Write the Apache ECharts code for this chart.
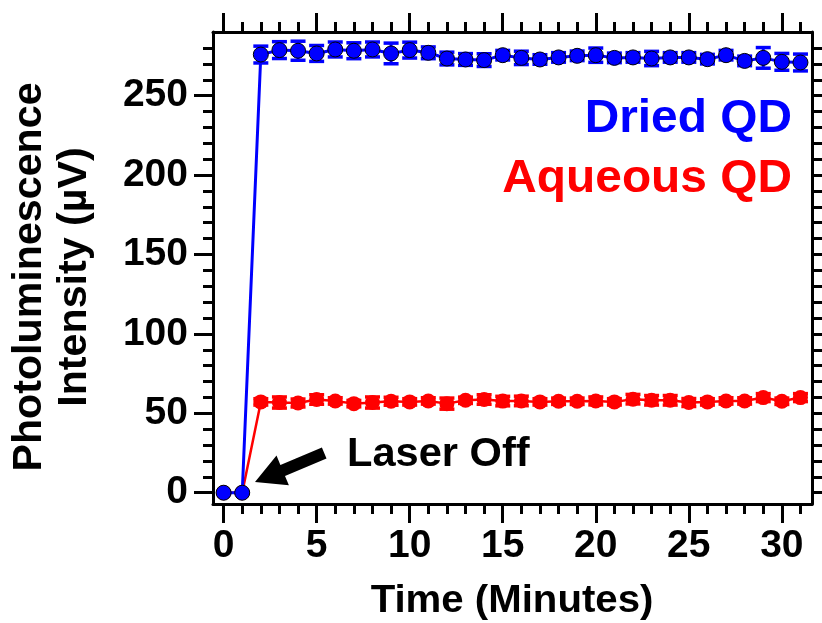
<!DOCTYPE html>
<html>
<head>
<meta charset="utf-8">
<script src="https://cdn.jsdelivr.net/npm/echarts@6/dist/echarts.min.js"></script>
<style>
html,body{margin:0;padding:0;background:#fff;}
#chart{width:822px;height:623px;}
</style>
</head>
<body>
<div id="chart"></div>
<script>
// ---- data ----
const time = [0,1,2,3,4,5,6,7,8,9,10,11,12,13,14,15,16,17,18,19,20,21,22,23,24,25,26,27,28,29,30,31];
const dried = [0,0,275.9,278.7,278.3,276.6,279.1,278.3,279.1,276.6,278.7,277.0,273.4,272.8,272.4,275.5,
               273.8,272.8,274.1,275.1,275.5,273.8,274.1,273.4,274.1,274.1,273.0,275.5,271.9,273.8,271.3,270.9];
const driedErr = [0,0,5.3,5.3,6.0,5.0,4.7,5.0,4.7,6.5,5.0,3.7,4.0,3.7,4.0,3.0,
                  4.2,3.0,3.0,3.0,4.5,3.0,3.0,4.5,3.0,3.0,3.0,3.0,3.0,6.5,5.3,5.3];
const aqueous = [0,0,57.2,56.8,56.5,58.7,57.8,56.1,56.8,57.6,57.2,57.8,56.1,58.2,58.7,57.7,
                 57.8,57.2,57.6,57.6,57.8,57.2,58.9,58.2,58.2,56.8,57.2,57.8,57.8,59.9,57.6,59.9];
const aqueousErr = [0,0,2,3.5,2.5,3,2,2,3.5,2.5,2,2,3.5,2,3,3,
                    3,2,2,2,2.5,2,3,3,3,2.5,2,2,2,2.5,2,2.5];
const xMajorTicks = [0,5,10,15,20,25,30];
const xMinorTicks = time;
const yMajorTicks = [0,50,100,150,200,250];
const yMinorTicks = [0,10,20,30,40,50,60,70,80,90,100,110,120,130,140,150,160,170,180,190,200,210,220,230,240,250,260,270,280];
const xTitle = 'Time (Minutes)';
const yTitle = 'Photoluminescence\nIntensity (µV)';
const driedName = 'Dried QD';
const aqueousName = 'Aqueous QD';
const annotation = 'Laser Off';

// ---- styling ----
const FONT = '"Liberation Sans", Arial, sans-serif';
const BLUE = '#0000ff';
const RED = '#ff0000';
const X_MIN = -0.57, X_MAX = 31.62;
const Y_MIN = -7.1, Y_MAX = 290.1;

const chart = echarts.init(document.getElementById('chart'), null, {renderer: 'canvas'});

function xAx(pos, ticks, len, showLine, showLabel) {
  return {
    type: 'value', position: pos, offset: 0, min: X_MIN, max: X_MAX,
    axisLine: {show: showLine, onZero: false, lineStyle: {color: '#000', width: 3}},
    axisTick: {show: true, customValues: ticks, length: len, inside: false, lineStyle: {color: '#000', width: 3}},
    axisLabel: showLabel ? {show: true, customValues: ticks, color: '#000', fontSize: 39, fontWeight: 'bold', fontFamily: FONT, margin: 23} : {show: false},
    splitLine: {show: false}
  };
}
function yAx(pos, ticks, len, showLine, showLabel) {
  return {
    type: 'value', position: pos, offset: 0, min: Y_MIN, max: Y_MAX,
    axisLine: {show: showLine, onZero: false, lineStyle: {color: '#000', width: 3}},
    axisTick: {show: true, customValues: ticks, length: len, inside: false, lineStyle: {color: '#000', width: 3}},
    axisLabel: showLabel ? {show: true, customValues: ticks, color: '#000', fontSize: 39, fontWeight: 'bold', fontFamily: FONT, margin: 25} : {show: false},
    splitLine: {show: false}
  };
}

function errSeries(vals, errs, color) {
  return {
    type: 'custom', xAxisIndex: 0, yAxisIndex: 0,
    data: time.map((t, i) => [t, vals[i] - errs[i], vals[i] + errs[i]]),
    encode: {x: 0, y: [1, 2]},
    silent: true,
    renderItem: function (params, api) {
      const x = api.value(0);
      const lo = api.coord([x, api.value(1)]);
      const hi = api.coord([x, api.value(2)]);
      const hw = 7.5;
      const st = {stroke: color, lineWidth: 3};
      const cap = {stroke: color, lineWidth: 3.5};
      return {
        type: 'group',
        children: [
          {type: 'line', shape: {x1: lo[0], y1: lo[1], x2: hi[0], y2: hi[1]}, style: st},
          {type: 'line', shape: {x1: lo[0] - hw, y1: lo[1], x2: lo[0] + hw, y2: lo[1]}, style: cap},
          {type: 'line', shape: {x1: hi[0] - hw, y1: hi[1], x2: hi[0] + hw, y2: hi[1]}, style: cap}
        ]
      };
    }
  };
}

const option = {
  animation: false,
  backgroundColor: '#fff',
  grid: {left: 213, top: 32, width: 599, height: 472, containLabel: false},
  xAxis: [
    xAx('bottom', xMajorTicks, 19, true, true),
    xAx('bottom', xMinorTicks, 10, false, false),
    xAx('top', xMajorTicks, 19, true, false),
    xAx('top', xMinorTicks, 10, false, false)
  ],
  yAxis: [
    yAx('left', yMajorTicks, 19, true, true),
    yAx('left', yMinorTicks, 10, false, false),
    yAx('right', yMajorTicks, 19, true, false),
    yAx('right', yMinorTicks, 10, false, false)
  ],
  series: [
    errSeries(aqueous, aqueousErr, RED),
    {
      name: aqueousName, type: 'line', xAxisIndex: 0, yAxisIndex: 0,
      data: time.map((t, i) => [t, aqueous[i]]),
      symbol: 'circle', symbolSize: 15, showAllSymbol: true,
      lineStyle: {color: RED, width: 2.5},
      itemStyle: {color: RED, borderWidth: 0}
    },
    errSeries(dried, driedErr, BLUE),
    {
      name: driedName, type: 'line', xAxisIndex: 0, yAxisIndex: 0,
      data: time.map((t, i) => [t, dried[i]]),
      symbol: 'circle', symbolSize: 15, showAllSymbol: true,
      lineStyle: {color: BLUE, width: 3},
      itemStyle: {color: BLUE, borderColor: '#000', borderWidth: 1}
    }
  ],
  graphic: [
    {type: 'text', x: 792, y: 119, scaleX: 1.04, style: {text: driedName, fill: BLUE, font: 'bold 46px ' + FONT, align: 'right', verticalAlign: 'middle'}},
    {type: 'text', x: 792, y: 179, scaleX: 1.04, style: {text: aqueousName, fill: RED, font: 'bold 46px ' + FONT, align: 'right', verticalAlign: 'middle'}},
    {type: 'text', x: 347, y: 455, scaleX: 1.04, style: {text: annotation, fill: '#000', font: 'bold 40px ' + FONT, align: 'left', verticalAlign: 'middle'}},
    {type: 'polygon', shape: {points: [[255,482],[276.5,455.6],[280.4,464.9],[321.9,447.4],[326.5,458.4],[285.0,475.9],[288.9,485.2]]}, style: {fill: '#000'}},
    {type: 'text', x: 512, y: 601, scaleX: 1.03, style: {text: xTitle, fill: '#000', font: 'bold 39px ' + FONT, align: 'center', verticalAlign: 'middle'}},
    {type: 'text', x: 52, y: 277, rotation: Math.PI / 2, scaleX: 1.03, style: {text: yTitle, fill: '#000', font: 'bold 40px ' + FONT, align: 'center', verticalAlign: 'middle', lineHeight: 45}}
  ]
};
chart.setOption(option);
</script>
</body>
</html>
